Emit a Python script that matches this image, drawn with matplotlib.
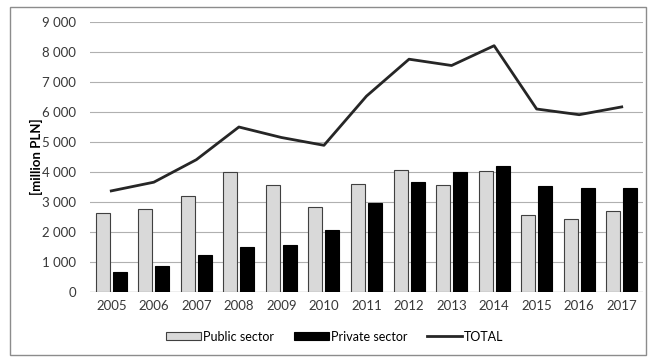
import numpy as np
import matplotlib.pyplot as plt
from matplotlib.patches import Rectangle

years = ['2005', '2006', '2007', '2008', '2009', '2010', '2011',
         '2012', '2013', '2014', '2015', '2016', '2017']
public_sector = [2620, 2770, 3190, 3990, 3570, 2820, 3600,
                 4070, 3560, 4030, 2560, 2420, 2700]
private_sector = [680, 880, 1240, 1490, 1560, 2080, 2970,
                  3670, 4000, 4190, 3530, 3470, 3470]
total = [3370, 3660, 4410, 5500, 5150, 4890, 6530,
         7760, 7550, 8210, 6100, 5910, 6170]
yticks = [0, 1000, 2000, 3000, 4000, 5000, 6000, 7000, 8000, 9000]

plt.rcParams['font.family'] = ['Lato', 'DejaVu Sans']

fig = plt.figure(figsize=(6.48, 3.6), dpi=100)
ax = fig.add_axes([90/648, 1 - 292/360, 553/648, 270/360])

x = np.arange(len(years))
w = 0.33
b1 = ax.bar(x - 0.2, public_sector, w, color='#d9d9d9', edgecolor='#404040',
            linewidth=0.8, label='Public sector', zorder=3)
b2 = ax.bar(x + 0.2, private_sector, w, color='black', edgecolor='black',
            linewidth=0.8, label='Private sector', zorder=3)
ln, = ax.plot(x, total, color='#262626', linewidth=2, label='TOTAL', zorder=4)

ax.set_xlim(-0.5, len(years) - 0.5)
ax.set_ylim(0, 9000)
ax.set_yticks(yticks)
ax.set_yticklabels([f'{v:,}'.replace(',', ' ') for v in yticks])
ax.set_xticks(x)
ax.set_xticklabels(years)
ax.tick_params(axis='both', length=0, labelsize=9.5, colors='#383838')
ax.tick_params(axis='y', pad=10)
ax.tick_params(axis='x', pad=6)
ax.grid(axis='y', color='#b0b0b0', linewidth=0.8, zorder=0)
for s in ax.spines.values():
    s.set_visible(False)
ax.axhline(0, color='#a0a0a0', linewidth=0.9, zorder=2)

ax.set_ylabel('[million PLN]', fontsize=9.5, fontweight='bold')
ax.yaxis.set_label_coords(-0.085, 0.5)

ax.legend([b1, b2, ln], ['Public sector', 'Private sector', 'TOTAL'],
          loc='center', bbox_to_anchor=(0.443, -0.165), ncol=3,
          frameon=False, fontsize=9, handlelength=2.8,
          handleheight=0.65, handletextpad=0.15, columnspacing=1.6)

# outer border of the chart
fig.patches.append(Rectangle((10/648, 5/360), 636/648, 348/360,
                             transform=fig.transFigure, fill=False,
                             edgecolor='#8c8c8c', linewidth=1))

fig.savefig('out.png', dpi=100)
